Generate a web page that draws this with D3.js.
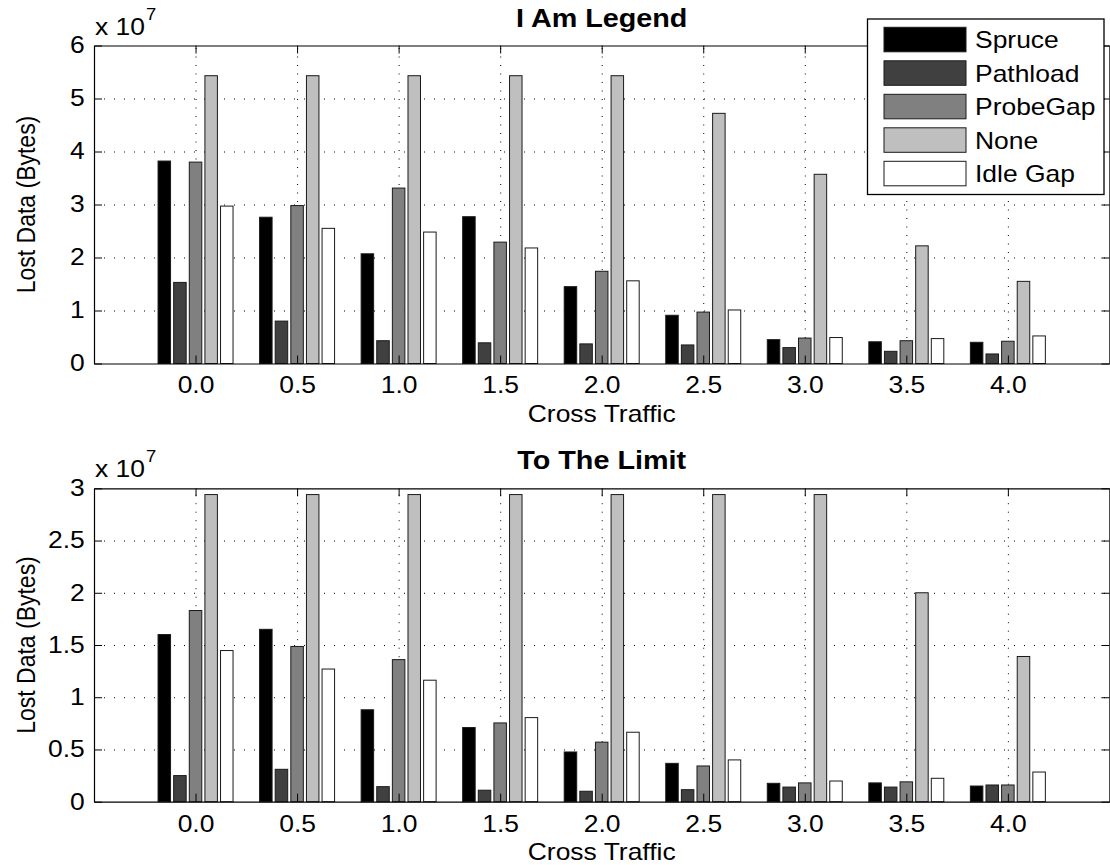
<!DOCTYPE html>
<html>
<head>
<meta charset="utf-8">
<script src="https://cdn.jsdelivr.net/npm/d3@7"></script>
<style>
  body { margin: 0; background: #fff; }
  text { font-family: "Liberation Sans", Arial, Helvetica, sans-serif; fill: #000; }
</style>
</head>
<body>
<div id="chart"></div>
<script>
    var width = 1110;
    var height = 865;

    // cross traffic values on the x axis and their labels
    var categories = [0, 0.5, 1.0, 1.5, 2.0, 2.5, 3.0, 3.5, 4.0];
    var tickLabels = ["0.0", "0.5", "1.0", "1.5", "2.0", "2.5", "3.0", "3.5", "4.0"];
    var seriesNames = ["Spruce", "Pathload", "ProbeGap", "None", "Idle Gap"];
    var seriesColors = ["#000000", "#404040", "#808080", "#bfbfbf", "#ffffff"];

    // "I Am Legend", in units of 10^7 bytes
    var topSpruce   = [3.82, 2.76, 2.07, 2.77, 1.45, 0.91, 0.45, 0.41, 0.40];
    var topPathload = [1.53, 0.80, 0.43, 0.39, 0.37, 0.35, 0.30, 0.23, 0.18];
    var topProbeGap = [3.80, 2.98, 3.31, 2.29, 1.74, 0.97, 0.48, 0.43, 0.42];
    var topNone     = [5.43, 5.43, 5.43, 5.43, 5.43, 4.72, 3.57, 2.22, 1.55];
    var topIdle     = [2.97, 2.55, 2.48, 2.18, 1.56, 1.01, 0.49, 0.47, 0.52];
    var topYTicks   = [0, 1, 2, 3, 4, 5, 6];

    // "To The Limit", in units of 10^7 bytes
    var botSpruce   = [1.60, 1.65, 0.88, 0.71, 0.476, 0.367, 0.176, 0.18, 0.15];
    var botPathload = [0.25, 0.31, 0.144, 0.11, 0.10, 0.115, 0.14, 0.14, 0.16];
    var botProbeGap = [1.83, 1.486, 1.36, 0.754, 0.57, 0.342, 0.18, 0.19, 0.16];
    var botNone     = [2.94, 2.94, 2.94, 2.94, 2.94, 2.94, 2.94, 2.00, 1.39];
    var botIdle     = [1.447, 1.27, 1.163, 0.805, 0.665, 0.40, 0.198, 0.224, 0.284];
    var botYTicks   = [0, 0.5, 1, 1.5, 2, 2.5, 3];

    // text in the picture is a bit wider than its height would say
    var stretch = 1.15;
    var fontSize = 23;

    var svg = d3.select("#chart")
                .append("svg")
                .attr("width", width)
                .attr("height", height);

    var addText = function(x, y, str, opts) {
        opts = opts || {};
        var t = svg.append("text")
           .attr("transform", "translate(" + x + "," + y + ")" + (opts.rotate ? " rotate(-90) scale(1," + stretch + ")" : " scale(" + stretch + ",1)"))
           .attr("font-size", opts.size || fontSize)
           .attr("text-anchor", opts.anchor || "middle")
           .text(str);
        if (opts.bold) t.attr("font-weight", "bold");
        return t;
    }

    // MATLAB grouped bar geometry
    var nSeries = seriesNames.length;
    var groupWidth = Math.min(0.8, nSeries / (nSeries + 1.5)) * 0.5;
    var pitch = groupWidth / nSeries;

    var x = d3.scaleLinear().domain([-0.5, 4.5]).range([94, 1109.4]);

    var drawPanel = function(top, bottom, yMax, yTicks, series, title) {
        var y = d3.scaleLinear().domain([0, yMax]).range([bottom, top]);
        var h = bottom - top;

        // dotted grid
        svg.append("g")
           .attr("transform", "translate(0," + bottom + ")")
           .call(d3.axisBottom(x).tickValues(categories).tickSize(-h).tickFormat(""))
           .call(function(g) { g.select(".domain").remove(); })
           .selectAll("line")
           .attr("stroke", "#000").attr("stroke-width", 1).attr("stroke-dasharray", "1,7.5");
        svg.append("g")
           .attr("transform", "translate(" + x.range()[0] + ",0)")
           .call(d3.axisLeft(y).tickValues(yTicks.slice(1, -1)).tickSize(-(x.range()[1] - x.range()[0])).tickFormat(""))
           .call(function(g) { g.select(".domain").remove(); })
           .selectAll("line")
           .attr("stroke", "#000").attr("stroke-width", 1).attr("stroke-dasharray", "1,9");

        // bars
        var bw = x(pitch * 0.8) - x(0);
        series.forEach(function(vals, si) {
            svg.append("g").selectAll("rect")
               .data(vals)
               .join("rect")
               .attr("x", function(d, i) { return x(categories[i] + (si - 2) * pitch) - bw / 2; })
               .attr("y", function(d) { return y(d); })
               .attr("width", bw)
               .attr("height", function(d) { return bottom - y(d); })
               .attr("fill", seriesColors[si])
               .attr("stroke", "#1a1a1a")
               .attr("stroke-width", 1);
        });

        // box with inward ticks
        var xb = svg.append("g")
           .attr("transform", "translate(0," + bottom + ")")
           .call(d3.axisBottom(x).tickValues(categories).tickSizeInner(-8).tickSizeOuter(0)
                 .tickFormat(function(d, i) { return tickLabels[i]; }));
        xb.selectAll("text")
          .attr("y", 30).attr("dy", null)
          .attr("font-size", fontSize)
          .attr("font-family", "Liberation Sans, Arial, sans-serif")
          .attr("transform", "scale(" + stretch + ",1)");
        svg.append("g")
           .attr("transform", "translate(0," + top + ")")
           .call(d3.axisTop(x).tickValues(categories).tickSizeInner(-8).tickSizeOuter(0).tickFormat(""));
        var yb = svg.append("g")
           .attr("transform", "translate(" + x.range()[0] + ",0)")
           .call(d3.axisLeft(y).tickValues(yTicks).tickSizeInner(-8).tickSizeOuter(0).tickFormat(d3.format("~g")));
        yb.selectAll("text")
          .attr("x", -8)
          .attr("font-size", fontSize)
          .attr("font-family", "Liberation Sans, Arial, sans-serif")
          .attr("transform", "scale(" + stretch + ",1)");
        svg.append("g")
           .attr("transform", "translate(" + x.range()[1] + ",0)")
           .call(d3.axisRight(y).tickValues(yTicks).tickSizeInner(-8).tickSizeOuter(0).tickFormat(""));
        svg.selectAll(".domain").attr("stroke", "#000").attr("stroke-width", 1.2);
        svg.selectAll(".tick line").filter(function() { return !this.getAttribute("stroke-dasharray"); })
           .attr("stroke", "#000");

        // labels
        var mid = (x.range()[0] + x.range()[1]) / 2;
        addText(mid, top - 19, title, {bold: true, size: 25});
        addText(mid, bottom + 58, "Cross Traffic");
        addText(35, (top + bottom) / 2, "Lost Data (Bytes)", {rotate: true});
        addText(95, top - 11, "x 10", {anchor: "start"});
        addText(146, top - 26, "7", {anchor: "start", size: 16});
    }

    drawPanel(45.5, 363.5, 6, topYTicks, [topSpruce, topPathload, topProbeGap, topNone, topIdle], "I Am Legend");
    drawPanel(488.3, 801.7, 3, botYTicks, [botSpruce, botPathload, botProbeGap, botNone, botIdle], "To The Limit");

    // legend on the upper panel
    var legend = svg.append("g");
    legend.append("rect")
          .attr("x", 867.5).attr("y", 19).attr("width", 236.5).attr("height", 175.5)
          .attr("fill", "#fff").attr("stroke", "#000").attr("stroke-width", 1.3);
    seriesNames.forEach(function(name, i) {
        var ry = 27.3 + i * 33.5;
        legend.append("rect")
              .attr("x", 884).attr("y", ry).attr("width", 82).attr("height", 24.5)
              .attr("fill", seriesColors[i]).attr("stroke", "#1a1a1a").attr("stroke-width", 1);
        addText(975, ry + 21, name, {anchor: "start"});
    });
</script>
</body>
</html>
